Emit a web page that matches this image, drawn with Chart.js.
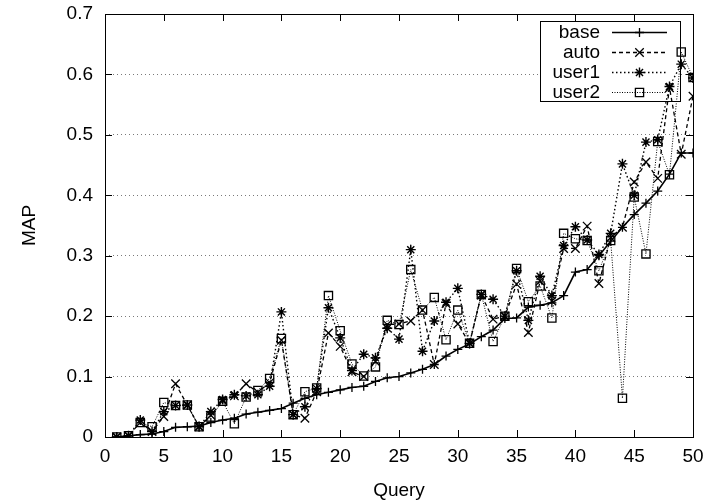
<!DOCTYPE html>
<html>
<head>
<meta charset="utf-8">
<title>MAP per query</title>
<script src="https://cdn.jsdelivr.net/npm/chart.js@4.4.1/dist/chart.umd.min.js"></script>
<style>
  html, body { margin: 0; padding: 0; background: #fff; }
  #mapChart { display: block; }
</style>
</head>
<body>
<canvas id="mapChart" width="709" height="503"></canvas>
<script>
// queries, sorted by the baseline MAP
const queries = [1, 2, 3, 4, 5, 6, 7, 8, 9, 10, 11, 12, 13, 14, 15, 16, 17, 18, 19, 20,
                 21, 22, 23, 24, 25, 26, 27, 28, 29, 30, 31, 32, 33, 34, 35, 36, 37, 38, 39, 40,
                 41, 42, 43, 44, 45, 46, 47, 48, 49, 50];

const base = [0, 0.002, 0.004, 0.005, 0.009, 0.016, 0.017, 0.018, 0.024, 0.028,
              0.031, 0.038, 0.041, 0.044, 0.047, 0.056, 0.064, 0.07, 0.074, 0.078,
              0.082, 0.084, 0.092, 0.098, 0.1, 0.106, 0.112, 0.12, 0.134, 0.145,
              0.154, 0.166, 0.177, 0.196, 0.197, 0.215, 0.218, 0.222, 0.234, 0.273,
              0.277, 0.3, 0.324, 0.347, 0.368, 0.387, 0.407, 0.435, 0.47, 0.47];

const auto = [0, 0.002, 0.024, 0.009, 0.034, 0.088, 0.053, 0.017, 0.036, 0.06,
              0.068, 0.088, 0.074, 0.09, 0.16, 0.037, 0.031, 0.075, 0.172, 0.15,
              0.108, 0.1, 0.125, 0.186, 0.187, 0.192, 0.21, 0.12, 0.221, 0.187,
              0.155, 0.235, 0.195, 0.2, 0.253, 0.173, 0.258, 0.225, 0.312, 0.312,
              0.349, 0.254, 0.33, 0.347, 0.422, 0.455, 0.428, 0.578, 0.468, 0.564];

const user1 = [0, 0.002, 0.028, 0.009, 0.042, 0.052, 0.053, 0.017, 0.042, 0.062,
               0.07, 0.068, 0.07, 0.084, 0.207, 0.037, 0.05, 0.08, 0.214, 0.164,
               0.11, 0.137, 0.131, 0.18, 0.162, 0.31, 0.142, 0.192, 0.223, 0.246,
               0.155, 0.236, 0.228, 0.2, 0.275, 0.193, 0.266, 0.234, 0.317, 0.348,
               0.326, 0.302, 0.337, 0.452, 0.4, 0.488, 0.492, 0.58, 0.617, 0.594];

const user2 = [0, 0.002, 0.024, 0.017, 0.057, 0.052, 0.053, 0.017, 0.033, 0.059,
               0.022, 0.066, 0.077, 0.097, 0.163, 0.037, 0.075, 0.081, 0.234, 0.176,
               0.121, 0.101, 0.116, 0.193, 0.186, 0.277, 0.21, 0.231, 0.161, 0.21,
               0.155, 0.236, 0.158, 0.2, 0.279, 0.224, 0.25, 0.197, 0.337, 0.328,
               0.325, 0.275, 0.325, 0.064, 0.397, 0.303, 0.489, 0.434, 0.637, 0.595];

const seriesNames = ['base', 'auto', 'user1', 'user2'];

const FONT = "'Liberation Sans', Arial, Helvetica, sans-serif";

// pair each query with its value
function toPoints(values) {
    return queries.map((q, i) => ({ x: q, y: values[i] }));
}

// gnuplot-ish look: mirrored inward ticks, full frame and a boxed key
const gnuplotLook = {
    id: 'gnuplotLook',

    beforeDatasetsDraw(chart) {
        const { ctx, chartArea: area } = chart;
        const box = { x: area.right - 13, y: area.top + 7, w: 140, h: 80 };
        box.x -= box.w;

        ctx.save();
        ctx.fillStyle = '#fff';
        ctx.fillRect(box.x, box.y, box.w, box.h);
        ctx.strokeStyle = '#000';
        ctx.lineWidth = 1;
        ctx.setLineDash([]);
        ctx.strokeRect(box.x + 0.5, box.y + 0.5, box.w, box.h);

        ctx.font = '19px ' + FONT;
        ctx.textAlign = 'right';
        ctx.textBaseline = 'middle';

        chart.data.datasets.forEach((ds, i) => {
            const y = box.y + 11 + i * 20;
            ctx.fillStyle = '#000';
            ctx.fillText(ds.label, box.x + 60, y + 1);

            // sample line
            ctx.strokeStyle = ds.borderColor;
            ctx.lineWidth = ds.borderWidth;
            ctx.setLineDash(ds.borderDash || []);
            ctx.beginPath();
            ctx.moveTo(box.x + 72, y + 0.5);
            ctx.lineTo(box.x + 127, y + 0.5);
            ctx.stroke();

            // marker
            ctx.setLineDash([]);
            ctx.lineWidth = ds.pointBorderWidth;
            ctx.fillStyle = ds.pointBackgroundColor;
            Chart.helpers.drawPoint(ctx, {
                pointStyle: ds.pointStyle,
                radius: ds.pointRadius,
                borderWidth: ds.pointBorderWidth,
                rotation: 0
            }, box.x + 99.5, y + 0.5);
        });
        ctx.restore();
    },

    afterDraw(chart) {
        const { ctx, chartArea: area, scales } = chart;
        const tick = 7;

        ctx.save();
        ctx.strokeStyle = '#000';
        ctx.lineWidth = 1;
        ctx.setLineDash([]);
        ctx.strokeRect(Math.round(area.left) + 0.5, Math.round(area.top) + 0.5,
                       Math.round(area.right - area.left), Math.round(area.bottom - area.top));

        ctx.beginPath();
        scales.x.ticks.forEach(t => {
            const px = Math.round(scales.x.getPixelForValue(t.value)) + 0.5;
            ctx.moveTo(px, area.bottom);
            ctx.lineTo(px, area.bottom - tick);
            ctx.moveTo(px, area.top);
            ctx.lineTo(px, area.top + tick);
        });
        scales.y.ticks.forEach(t => {
            const py = Math.round(scales.y.getPixelForValue(t.value)) + 0.5;
            ctx.moveTo(area.left, py);
            ctx.lineTo(area.left + tick, py);
            ctx.moveTo(area.right, py);
            ctx.lineTo(area.right - tick, py);
        });
        ctx.stroke();
        ctx.restore();
    }
};

const chart = new Chart(document.getElementById('mapChart'), {
    type: 'line',
    data: {
        datasets: [
            {
                label: seriesNames[0],
                data: toPoints(base),
                borderColor: '#000',
                borderWidth: 1.6,
                pointStyle: 'cross',
                pointRadius: 4.5,
                pointBorderWidth: 1.3,
                pointBorderColor: '#000',
                pointBackgroundColor: 'rgba(0,0,0,0)',
                order: 4
            },
            {
                label: seriesNames[1],
                data: toPoints(auto),
                borderColor: '#000',
                borderWidth: 1.3,
                borderDash: [4, 3],
                pointStyle: 'crossRot',
                pointRadius: 6,
                pointBorderWidth: 1.3,
                pointBorderColor: '#000',
                pointBackgroundColor: 'rgba(0,0,0,0)',
                order: 3
            },
            {
                label: seriesNames[2],
                data: toPoints(user1),
                borderColor: '#000',
                borderWidth: 1.4,
                borderDash: [1.5, 2.5],
                pointStyle: 'star',
                pointRadius: 5,
                pointBorderWidth: 1.4,
                pointBorderColor: '#000',
                pointBackgroundColor: 'rgba(0,0,0,0)',
                order: 2
            },
            {
                label: seriesNames[3],
                data: toPoints(user2),
                borderColor: '#000',
                borderWidth: 1,
                borderDash: [1, 1.5],
                pointStyle: 'rect',
                pointRadius: 5.8,
                pointBorderWidth: 1.3,
                pointBorderColor: '#000',
                pointBackgroundColor: 'rgba(0,0,0,0)',
                order: 1
            }
        ]
    },
    options: {
        responsive: false,
        animation: false,
        events: [],
        layout: { padding: { left: 0, right: 16, top: 14, bottom: 0 } },
        plugins: {
            legend: { display: false },
            tooltip: { enabled: false }
        },
        elements: {
            line: { tension: 0, fill: false }
        },
        scales: {
            x: {
                type: 'linear',
                min: 0,
                max: 50,
                afterFit(scale) {
                    scale.height = 66;
                    scale.paddingLeft = 0;
                    scale.paddingRight = 0;
                },
                ticks: {
                    stepSize: 5,
                    padding: 8,
                    color: '#000',
                    font: { family: FONT, size: 19 },
                    maxRotation: 0
                },
                grid: { display: false, drawTicks: false },
                border: { display: false },
                title: {
                    display: true,
                    text: 'Query',
                    color: '#000',
                    font: { family: FONT, size: 19 },
                    padding: { top: 0, bottom: 1 }
                }
            },
            y: {
                min: 0,
                max: 0.7,
                afterFit(scale) {
                    scale.width = 105;
                    scale.paddingTop = 0;
                    scale.paddingBottom = 0;
                },
                ticks: {
                    stepSize: 0.1,
                    padding: 12,
                    color: '#000',
                    font: { family: FONT, size: 19 },
                    callback: v => (Math.abs(v) < 1e-9 ? '0' : v.toFixed(1))
                },
                grid: {
                    drawTicks: false,
                    lineWidth: 1,
                    color: ctx => {
                        const v = ctx.tick ? ctx.tick.value : 0;
                        return (v < 0.05 || v > 0.65) ? 'rgba(0,0,0,0)' : '#7a7a7a';
                    }
                },
                border: { display: false, dash: [1, 3] },
                title: {
                    display: true,
                    text: 'MAP',
                    color: '#000',
                    font: { family: FONT, size: 19 },
                    padding: { top: 18, bottom: 0 }
                }
            }
        }
    },
    plugins: [gnuplotLook]
});
</script>
</body>
</html>
